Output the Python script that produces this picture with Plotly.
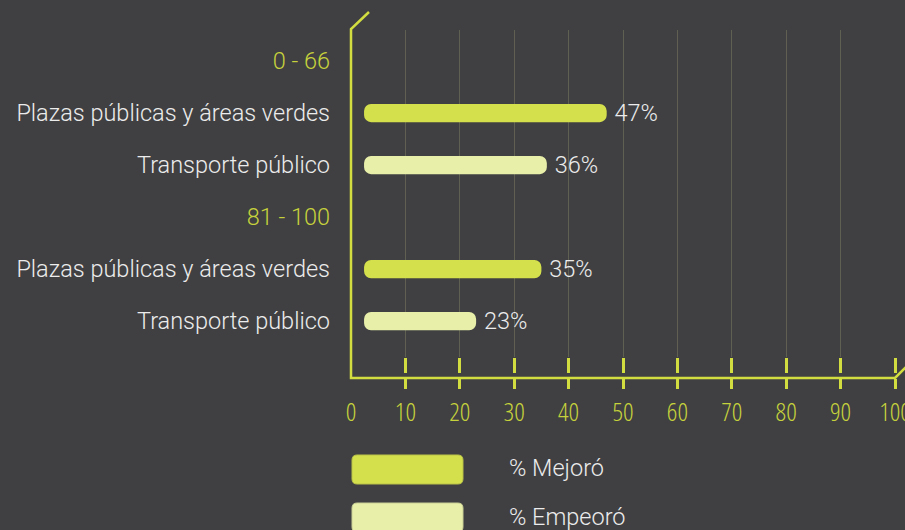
import plotly.graph_objects as go

# ---- data ----
groups = ["0 - 66", "81 - 100"]
items = ["Plazas públicas y áreas verdes", "Transporte público"]
series_names = ["% Mejoró", "% Empeoró"]
mejoro = [47, 35]     # Plazas públicas y áreas verdes, per group
empeoro = [36, 23]    # Transporte público, per group
x_ticks = [0, 10, 20, 30, 40, 50, 60, 70, 80, 90, 100]

# ---- style ----
BG = "#404042"
YEL = "#d2dd3f"
TICKTXT = "#c6d23c"
HEADER = "#c6d23c"
C_MEJ = "#d5e04d"
C_EMP = "#e8efa9"
GRID = "#5f5f52"
TXT = "#ececec"
FONT = "Roboto"
FS = 23.5
BAR_GAP = 2.4

W, H = 905, 530
L, R, T, B = 351, 10, 30, 152
PW, PH = W - L - R, H - T - B
Y_DOM0 = 21 / PH


def px(x, y):
    return (x - L) / PW, (H - B - y) / PH


def rrect(x0, y0, x1, y1, r):
    def p(x, y):
        a, b = px(x, y)
        return f"{a:.5f},{b:.5f}"
    return (f"M {p(x0 + r, y0)} L {p(x1 - r, y0)} Q {p(x1, y0)} {p(x1, y0 + r)} "
            f"L {p(x1, y1 - r)} Q {p(x1, y1)} {p(x1 - r, y1)} L {p(x0 + r, y1)} "
            f"Q {p(x0, y1)} {p(x0, y1 - r)} L {p(x0, y0 + r)} Q {p(x0, y0)} {p(x0 + r, y0)} Z")


row_keys, row_text = [], []
for g in groups:
    row_keys.append(g)
    row_text.append(f'<span style="color:{HEADER}">{g}</span>')
    for it in items:
        row_keys.append(g + "|" + it)
        row_text.append(it)

fig = go.Figure()
for name, vals, item, col in [(series_names[0], mejoro, items[0], C_MEJ),
                              (series_names[1], empeoro, items[1], C_EMP)]:
    fig.add_trace(go.Bar(
        name=name, orientation="h",
        y=[g + "|" + item for g in groups],
        x=[v - BAR_GAP for v in vals], base=BAR_GAP,
        text=[f"\u2009{v}%" for v in vals], textposition="outside",
        constraintext="none",
        textfont=dict(family=FONT, size=FS, color=TXT, weight=300),
        cliponaxis=False,
        marker=dict(color=col, line=dict(width=0)),
        width=0.35, showlegend=False, hoverinfo="skip",
    ))

# helper invisible traces so overlay axes are drawn
for xa in ["x2", "x3"]:
    fig.add_trace(go.Scatter(x=[0], y=[row_keys[0]], xaxis=xa, yaxis="y",
                             mode="markers", marker=dict(opacity=0),
                             showlegend=False, hoverinfo="skip"))

frame = ("M {} {} L {} {} L {} {} L {} {} L {} {}".format(
    *px(369, 12), *px(351, 29), *px(351, 378), *px(895, 378), *px(918, 355)))

shapes = [dict(type="path", xref="paper", yref="paper", path=frame,
               line=dict(color=YEL, width=2.5), layer="above")]
shapes.append(dict(type="path", xref="paper", yref="paper",
                   path=rrect(352, 455, 463, 484, 5), fillcolor=C_MEJ,
                   line=dict(color="#b9c247", width=1)))
shapes.append(dict(type="path", xref="paper", yref="paper",
                   path=rrect(352, 503, 463, 532, 5), fillcolor=C_EMP,
                   line=dict(color="#c9cf95", width=1)))

annotations = []
for name, yy in zip(series_names, [468, 517]):
    ax, ay = px(507, yy)
    annotations.append(dict(x=ax, y=ay, xref="paper", yref="paper", text=name,
                            showarrow=False, xanchor="left", yanchor="middle",
                            font=dict(family=FONT, size=FS, color=TXT, weight=300)))

fig.update_layout(
    width=W, height=H,
    margin=dict(l=L, r=R, t=T, b=B, pad=0, autoexpand=False),
    paper_bgcolor=BG, plot_bgcolor=BG,
    barmode="overlay", barcornerradius=7,
    shapes=shapes, annotations=annotations,
    xaxis=dict(range=[0, 100], domain=[0, 1], anchor="y", automargin=False,
               tickvals=x_ticks[1:], ticks="outside", ticklen=15, tickwidth=2.5,
               tickcolor=YEL, showticklabels=False, showgrid=True,
               gridcolor=GRID, gridwidth=1, showline=False, zeroline=False),
    xaxis2=dict(range=[0, 100], overlaying="x", anchor="free", position=0,
                automargin=False,
                tickvals=x_ticks[1:], ticks="outside", ticklen=10, tickwidth=2.5,
                tickcolor=YEL, showticklabels=False, showgrid=False,
                showline=False, zeroline=False),
    xaxis3=dict(range=[0, 100], overlaying="x", anchor="free", position=0,
                automargin=False,
                tickvals=x_ticks, ticktext=[str(t) for t in x_ticks], ticks="",
                showticklabels=True, ticklabelstandoff=16, ticklabeloverflow="allow",
                tickfont=dict(family="Open Sans", size=26, color=TICKTXT, weight=300),
                showgrid=False, showline=False, zeroline=False),
    yaxis=dict(domain=[Y_DOM0, 1], type="category", automargin=False,
               categoryorder="array", categoryarray=row_keys,
               tickvals=row_keys, ticktext=row_text,
               range=[5.69, -0.596], ticks="", ticklabelstandoff=20,
               tickfont=dict(family=FONT, size=FS, color=TXT, weight=300),
               showgrid=False, showline=False, zeroline=False),
    font=dict(family=FONT, color=TXT),
)

fig.write_html("out.html", config={"displayModeBar": False})

# remove default page margin and condense the x tick label font
with open("out.html", encoding="utf-8") as f:
    html = f.read()
css = ("<style>html,body{margin:0;padding:0;overflow:hidden;}"
       ".x3tick text{font-stretch:75%;font-variation-settings:'wdth' 75;}</style>")
html = html.replace("<head>", "<head>" + css, 1)
with open("out.html", "w", encoding="utf-8") as f:
    f.write(html)
